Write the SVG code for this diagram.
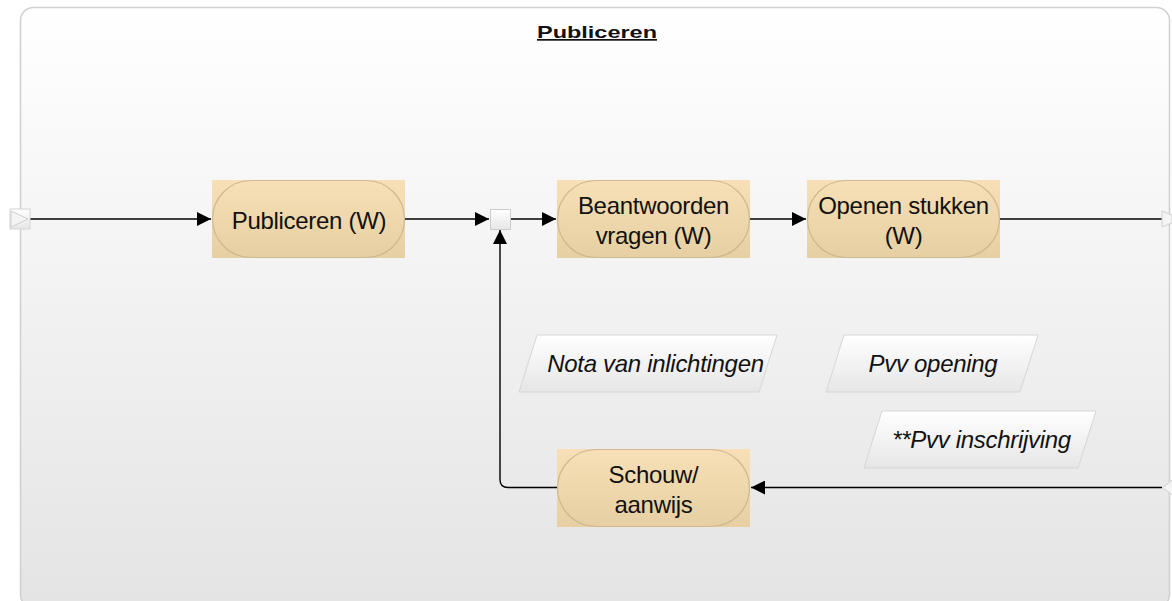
<svg xmlns="http://www.w3.org/2000/svg" width="1172" height="601" viewBox="0 0 1172 601">
<defs>
<linearGradient id="bg" x1="0" y1="0" x2="0" y2="1"><stop offset="0" stop-color="#ffffff"/><stop offset="1" stop-color="#e4e4e4"/></linearGradient>
<linearGradient id="task" x1="0" y1="0" x2="0" y2="1"><stop offset="0" stop-color="#f7e0b5"/><stop offset="1" stop-color="#e6cfa3"/></linearGradient>
<linearGradient id="doc" x1="0" y1="0" x2="0" y2="1"><stop offset="0" stop-color="#ffffff"/><stop offset="1" stop-color="#e6e6e6"/></linearGradient>
<marker id="arrB" viewBox="0 0 14 14" refX="14" refY="7" markerWidth="14" markerHeight="14" markerUnits="userSpaceOnUse" orient="auto"><path d="M0,0 L14,7 L0,14 z" fill="#000"/></marker>
</defs>
<style>
.lbl{font-family:"Liberation Sans",Arial,sans-serif;font-size:24px;fill:#111;text-anchor:middle;letter-spacing:-0.3px}
.it{font-style:italic}
.sq{fill:url(#task)}
.pill{fill:url(#task);stroke:#cdb890;stroke-width:1.2}
.doc{fill:url(#doc);stroke:#d6d6d6;stroke-width:1}
.ln{fill:none;stroke:#000;stroke-width:1.4}
.port{fill:url(#doc);stroke:#d4d4d4;stroke-width:1}
</style>
<g id="container">
<rect x="20.5" y="7.5" width="1149" height="600" rx="13" fill="url(#bg)" stroke="#d0d0d0" stroke-width="1.5"/>
<text x="597" y="38" textLength="120" lengthAdjust="spacingAndGlyphs" style="font-family:'Liberation Sans',Arial,sans-serif;font-size:17px;font-weight:bold;text-anchor:middle;text-decoration:underline" fill="#111">Publiceren</text>
</g>
<g id="connectors">
<path class="ln" d="M30,219 H211" marker-end="url(#arrB)"/>
<path class="ln" d="M405,219 H489" marker-end="url(#arrB)"/>
<path class="ln" d="M511,219 H556" marker-end="url(#arrB)"/>
<path class="ln" d="M750,219 H806" marker-end="url(#arrB)"/>
<path class="ln" d="M1000,219 H1162"/>
<path class="ln" d="M1162,487.5 H751" marker-end="url(#arrB)"/>
<path class="ln" d="M557,487.5 H508 Q500,487.5 500,479.5 V230" marker-end="url(#arrB)"/>
</g>
<g id="in-left">
<rect class="port" x="10" y="209" width="20" height="20" stroke="none"/>
<path d="M11,211 L28,219 L11,227 z" fill="#f4f4f4" stroke="#cfcfcf" stroke-width="1"/>
</g>
<g id="out-right">
<path d="M1162,211 L1172,215 L1172,223 L1162,227 z" fill="#f4f4f4" stroke="#cfcfcf" stroke-width="1"/>
</g>
<g id="in-right">
<path d="M1172,480 L1163,487.5 L1172,495" fill="#f4f4f4" stroke="#cfcfcf" stroke-width="1"/>
</g>
<g id="junction">
<rect x="490.5" y="209.5" width="20" height="20" fill="url(#doc)" stroke="#cccccc" stroke-width="1"/>
</g>
<g id="n-publiceren">
<rect class="sq" x="212" y="180" width="193" height="78"/>
<rect class="pill" x="212.5" y="180.5" width="192" height="77" rx="38.5"/>
<text class="lbl" x="309" y="229">Publiceren (W)</text>
</g>
<g id="n-beantwoorden">
<rect class="sq" x="557" y="180" width="193" height="78"/>
<rect class="pill" x="557.5" y="180.5" width="192" height="77" rx="38.5"/>
<text class="lbl" x="653.5" y="214">Beantwoorden</text>
<text class="lbl" x="653.5" y="244">vragen (W)</text>
</g>
<g id="n-openen">
<rect class="sq" x="807" y="180" width="193" height="78"/>
<rect class="pill" x="807.5" y="180.5" width="192" height="77" rx="38.5"/>
<text class="lbl" x="903.5" y="214">Openen stukken</text>
<text class="lbl" x="903.5" y="244">(W)</text>
</g>
<g id="n-schouw">
<rect class="sq" x="557" y="449" width="193" height="78"/>
<rect class="pill" x="557.5" y="449.5" width="192" height="77" rx="38.5"/>
<text class="lbl" x="653.5" y="483">Schouw/</text>
<text class="lbl" x="653.5" y="513">aanwijs</text>
</g>
<g id="d-nota">
<path class="doc" d="M537,335 H777 L759,392 H519 z"/>
<text class="lbl it" x="655.5" y="372">Nota van inlichtingen</text>
</g>
<g id="d-pvv-opening">
<path class="doc" d="M844,335 H1038 L1020,392 H826 z"/>
<text class="lbl it" x="933" y="372">Pvv opening</text>
</g>
<g id="d-pvv-inschrijving">
<path class="doc" d="M882,411 H1096 L1078,468 H864 z"/>
<text class="lbl it" x="981.5" y="448">**Pvv inschrijving</text>
</g>
</svg>
